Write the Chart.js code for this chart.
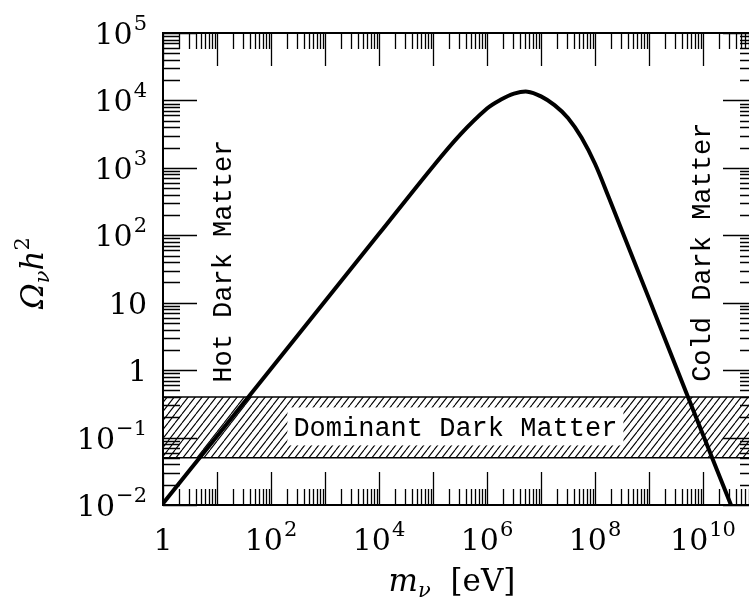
<!DOCTYPE html>
<html>
<head>
<meta charset="utf-8">
<script src="https://cdn.jsdelivr.net/npm/chart.js@4.4.1/dist/chart.umd.min.js"></script>
<style>
  html, body { margin: 0; padding: 0; background: #fff; overflow: hidden; }
  #wrap { width: 760px; height: 607px; position: relative; }
</style>
</head>
<body>
<div id="wrap"><canvas id="relic"></canvas></div>
<script>
// neutrino mass [eV] and relic density
var massEv = [1, 1e1, 1e2, 1e3, 1e4, 1e5, 3.16e5, 1e6, 1.78e6, 3.16e6, 5.62e6, 1e7, 1.78e7, 3.16e7, 5.62e7, 1e8, 1.78e8, 3.16e8, 1e9, 3.16e9, 1e10, 3.3e10];
var omegaH2 = [0.0105, 0.105, 1.05, 10.5, 105, 1050, 3090, 7590, 10230, 12590, 13490, 11480, 8510, 5500, 2820, 1150, 372, 117, 11.5, 1.12, 0.11, 0.01];

// "dominant dark matter" band
var bandLow = 0.05;
var bandHigh = 0.4;
var bandX = [1, 1e11];

// axis ranges and labelled decades
var xRange = [1, 1e11];
var yRange = [0.01, 1e5];
var xLabelExp = [0, 2, 4, 6, 8, 10];
var yLabelExp = [-2, -1, 0, 1, 2, 3, 4, 5];

function hatchPattern() {
    var w = 7, h = 9;
    var pc = document.createElement('canvas');
    pc.width = w; pc.height = h;
    var p = pc.getContext('2d');
    p.strokeStyle = '#000';
    p.lineWidth = 1.1;
    p.beginPath();
    [-w, 0, w].forEach(function(o) {
        p.moveTo(o, h);
        p.lineTo(o + w, 0);
    });
    p.stroke();
    return p.createPattern(pc, 'repeat');
}

var serif = "'DejaVu Serif', serif";
var mono = "'Liberation Mono', monospace";
var mainFont = '30px ' + serif;
var expFont = '21px ' + serif;

// splits a decade value into base text and exponent text
function labelParts(v) {
    var e = Math.round(Math.log10(v));
    if (e === 0) return ['1', ''];
    if (e === 1) return ['10', ''];
    return ['10', String(e).replace('-', '\u2212')];
}

function drawPow(ctx, parts, x, baseline, align) {
    ctx.font = mainFont;
    var w1 = ctx.measureText(parts[0]).width;
    ctx.font = expFont;
    var w2 = parts[1] ? ctx.measureText(parts[1]).width + 1 : 0;
    var x0 = align === 'right' ? x - w1 - w2 : x - (w1 + w2) / 2;
    ctx.font = mainFont;
    ctx.fillText(parts[0], x0, baseline);
    if (parts[1]) {
        ctx.font = expFont;
        ctx.fillText(parts[1], x0 + w1 + 1, baseline - 14);
    }
}

var framePlugin = {
    id: 'frame',
    afterDatasetsDraw: function(chart) {
        var ctx = chart.ctx;
        var xs = chart.scales.x, ys = chart.scales.y;
        ctx.save();

        // label inside the band
        ctx.font = '27px ' + mono;
        var txt = 'Dominant Dark Matter';
        var tw = ctx.measureText(txt).width;
        var cx = xs.getPixelForValue(2.6e5);
        var cy = ys.getPixelForValue(Math.sqrt(bandLow * bandHigh));
        ctx.fillStyle = '#fff';
        ctx.fillRect(cx - tw / 2 - 6, cy - 20, tw + 12, 38);
        ctx.fillStyle = '#000';
        ctx.textAlign = 'center';
        ctx.textBaseline = 'alphabetic';
        ctx.fillText(txt, cx, cy + 9);

        // vertical labels
        ctx.textAlign = 'left';
        [['Hot Dark Matter', 18, 0.65], ['Cold Dark Matter', 1.35e10, 0.67]].forEach(function(l) {
            ctx.save();
            ctx.translate(xs.getPixelForValue(l[1]), ys.getPixelForValue(l[2]));
            ctx.rotate(-Math.PI / 2);
            ctx.fillText(l[0], 0, 0);
            ctx.restore();
        });
        ctx.restore();
    },
    afterDraw: function(chart) {
        var ctx = chart.ctx;
        var a = chart.chartArea;
        var xs = chart.scales.x, ys = chart.scales.y;
        ctx.save();
        ctx.strokeStyle = '#000';
        ctx.lineWidth = 1.3;
        ctx.beginPath();
        var e, k, v, p, len;
        for (e = 0; e <= 11; e++) {
            for (k = 1; k <= 9; k++) {
                v = k * Math.pow(10, e);
                if (v > xRange[1]) break;
                p = Math.round(xs.getPixelForValue(v)) + 0.5;
                len = k === 1 ? 33 : 16;
                ctx.moveTo(p, a.bottom); ctx.lineTo(p, a.bottom - len);
                ctx.moveTo(p, a.top); ctx.lineTo(p, a.top + len);
            }
        }
        for (e = -2; e <= 5; e++) {
            for (k = 1; k <= 9; k++) {
                v = k * Math.pow(10, e);
                if (v > yRange[1] * 1.0001) break;
                p = Math.round(ys.getPixelForValue(v)) + 0.5;
                len = k === 1 ? 34 : 17;
                ctx.moveTo(a.left, p); ctx.lineTo(a.left + len, p);
                ctx.moveTo(a.right, p); ctx.lineTo(a.right - len, p);
            }
        }
        ctx.stroke();

        ctx.lineWidth = 2;
        ctx.strokeRect(a.left, a.top, a.right - a.left, a.bottom - a.top);

        // tick labels from the scales' own ticks
        ctx.fillStyle = '#000';
        ctx.textBaseline = 'alphabetic';
        ctx.textAlign = 'left';
        xs.ticks.forEach(function(t) {
            drawPow(ctx, labelParts(t.value), xs.getPixelForValue(t.value), a.bottom + 45, 'center');
        });
        ys.ticks.forEach(function(t) {
            drawPow(ctx, labelParts(t.value), a.left - 16, ys.getPixelForValue(t.value) + 11, 'right');
        });

        // x title: m_nu [eV]
        var parts = [
            { t: 'm', f: 'italic 31px ' + serif, dy: 0 },
            { t: 'ν', f: 'italic 21px ' + serif, dy: 6 },
            { t: '  [eV]', f: '31px ' + serif, dy: 0 }
        ];
        drawParts(ctx, parts, 452, 591);

        // y title: Omega_nu h^2
        ctx.save();
        ctx.translate(43, 273);
        ctx.rotate(-Math.PI / 2);
        var yparts = [
            { t: 'Ω', f: 'italic 31px ' + serif, dy: 0 },
            { t: 'ν', f: 'italic 21px ' + serif, dy: 6 },
            { t: 'h', f: 'italic 31px ' + serif, dy: 0 },
            { t: '2', f: '21px ' + serif, dy: -14 }
        ];
        drawParts(ctx, yparts, 0, 0);
        ctx.restore();
        ctx.restore();
    }
};

function drawParts(ctx, parts, cx, y) {
    var total = 0;
    parts.forEach(function(p) { ctx.font = p.f; p.w = ctx.measureText(p.t).width; total += p.w; });
    var x = cx - total / 2;
    parts.forEach(function(p) {
        ctx.font = p.f;
        ctx.fillText(p.t, x, y + p.dy);
        x += p.w;
    });
}

var ctx = document.getElementById('relic').getContext('2d');
var curvePts = massEv.map(function(m, i) { return { x: m, y: omegaH2[i] }; });

new Chart(ctx, {
    type: 'line',
    data: {
        datasets: [{
            data: curvePts,
            borderColor: '#000',
            borderWidth: 4,
            pointRadius: 0,
            tension: 0.35,
            fill: false
        }, {
            data: bandX.map(function(x) { return { x: x, y: bandLow }; }),
            borderColor: '#000',
            borderWidth: 1.5,
            pointRadius: 0,
            fill: false
        }, {
            data: bandX.map(function(x) { return { x: x, y: bandHigh }; }),
            borderColor: '#000',
            borderWidth: 1.5,
            pointRadius: 0,
            backgroundColor: hatchPattern(),
            fill: '-1'
        }]
    },
    options: {
        responsive: true,
        maintainAspectRatio: false,
        animation: false,
        layout: { padding: { left: 0, top: 33, right: 3, bottom: 0 } },
        plugins: { legend: { display: false }, tooltip: { enabled: false } },
        scales: {
            x: {
                type: 'logarithmic',
                min: xRange[0],
                max: xRange[1],
                afterBuildTicks: function(s) {
                    s.ticks = xLabelExp.map(function(e) { return { value: Math.pow(10, e) }; });
                },
                afterFit: function(s) { s.height = 102; },
                grid: { display: false, drawTicks: false },
                border: { display: false },
                ticks: { display: false }
            },
            y: {
                type: 'logarithmic',
                min: yRange[0],
                max: yRange[1],
                afterBuildTicks: function(s) {
                    s.ticks = yLabelExp.map(function(e) { return { value: Math.pow(10, e) }; });
                },
                afterFit: function(s) { s.width = 163; },
                grid: { display: false, drawTicks: false },
                border: { display: false },
                ticks: { display: false }
            }
        }
    },
    plugins: [framePlugin]
});
</script>
</body>
</html>
